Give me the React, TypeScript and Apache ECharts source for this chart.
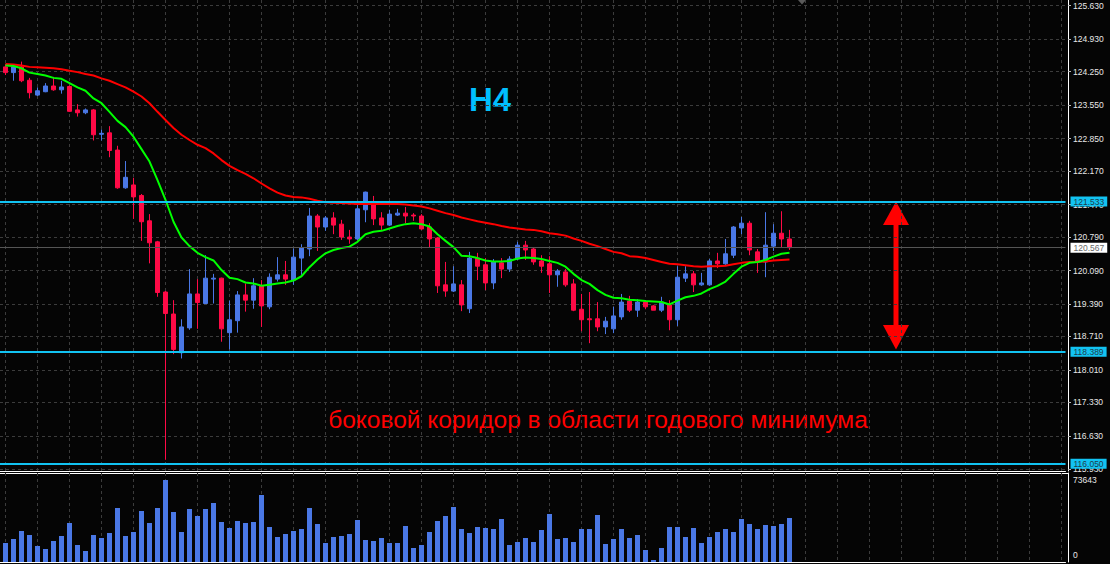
import React, { useEffect, useRef } from 'react';
import * as echarts from 'echarts';

// ---- axis tick labels (price pane) ----
const priceTicks = [125.63, 124.93, 124.25, 123.55, 122.85, 122.17, 121.47, 120.79, 120.09, 119.39, 118.71, 118.01, 117.33, 116.63, 115.93];

// ---- horizontal support / resistance levels ----
const levels = [121.533, 118.389, 116.05];

// ---- candles: [open, close, low, high] ----
const ohlc = [
  [124.35, 124.23, 124.18, 124.41],
  [124.23, 124.35, 124.06, 124.41],
  [124.35, 124.06, 124.03, 124.46],
  [124.07, 123.81, 123.69, 124.12],
  [123.76, 123.85, 123.74, 123.92],
  [123.83, 123.95, 123.82, 124.01],
  [123.95, 123.87, 123.85, 124.14],
  [123.87, 123.93, 123.79, 124.06],
  [123.94, 123.42, 123.41, 123.96],
  [123.45, 123.39, 123.31, 123.57],
  [123.39, 123.45, 123.36, 123.48],
  [123.45, 122.93, 122.81, 123.47],
  [122.94, 122.96, 122.81, 123.04],
  [122.97, 122.6, 122.46, 123.11],
  [122.61, 121.82, 121.8, 122.7],
  [121.82, 122.04, 121.8, 122.38],
  [121.88, 121.63, 121.17, 122.03],
  [121.66, 121.11, 120.71, 121.69],
  [121.13, 120.67, 120.24, 121.27],
  [120.69, 119.63, 119.54, 120.71],
  [119.64, 119.19, 116.13, 119.66],
  [119.18, 118.44, 118.34, 119.47],
  [118.37, 118.91, 118.25, 119.07],
  [118.89, 119.6, 118.85, 120.12],
  [119.6, 119.42, 118.87, 119.91],
  [119.4, 119.93, 119.39, 120.41],
  [119.91, 119.93, 119.4, 120.02],
  [119.93, 118.87, 118.6, 119.94],
  [118.79, 119.06, 118.44, 119.46],
  [119.04, 119.58, 118.79, 119.66],
  [119.58, 119.47, 119.23, 119.82],
  [119.47, 119.77, 119.29, 119.93],
  [119.77, 119.35, 118.91, 119.89],
  [119.33, 119.95, 119.28, 120.03],
  [119.91, 120.0, 119.86, 120.37],
  [120.0, 119.91, 119.79, 120.29],
  [119.89, 120.37, 119.79, 120.55],
  [120.35, 120.56, 120.0, 120.64],
  [120.54, 121.23, 120.39, 121.4],
  [121.23, 121.0, 120.5, 121.27],
  [121.0, 121.19, 120.92, 121.23],
  [121.19, 121.04, 120.85, 121.31],
  [121.06, 120.79, 120.73, 121.15],
  [120.79, 120.75, 120.65, 120.94],
  [120.75, 121.38, 120.73, 121.46],
  [121.36, 121.73, 121.1, 121.74],
  [121.52, 121.17, 121.04, 121.65],
  [121.19, 121.04, 120.94, 121.31],
  [121.04, 121.27, 121.02, 121.36],
  [121.25, 121.29, 121.23, 121.38],
  [121.29, 121.23, 121.08, 121.42],
  [121.25, 121.23, 121.13, 121.29],
  [121.23, 120.96, 120.94, 121.27],
  [121.0, 120.75, 120.58, 121.08],
  [120.77, 119.77, 119.62, 120.79],
  [119.79, 119.66, 119.54, 120.27],
  [119.66, 119.81, 119.64, 120.18],
  [119.79, 119.37, 119.24, 119.89],
  [119.29, 120.35, 119.2, 120.48],
  [120.35, 120.18, 119.89, 120.46],
  [120.21, 119.83, 119.68, 120.35],
  [119.83, 120.27, 119.7, 120.33],
  [120.25, 120.12, 119.93, 120.35],
  [120.12, 120.33, 120.06, 120.39],
  [120.33, 120.62, 120.31, 120.69],
  [120.62, 120.52, 120.31, 120.71],
  [120.54, 120.27, 120.21, 120.58],
  [120.29, 120.18, 120.04, 120.41],
  [120.23, 120.0, 119.62, 120.39],
  [120.0, 120.08, 119.75, 120.12],
  [120.06, 119.79, 119.75, 120.12],
  [119.81, 119.26, 119.24, 119.91],
  [119.28, 119.06, 118.82, 119.6],
  [119.08, 119.06, 118.57, 119.64],
  [119.08, 118.91, 118.82, 119.43],
  [118.91, 119.03, 118.76, 119.12],
  [118.87, 119.14, 118.78, 119.33],
  [119.12, 119.43, 119.06, 119.6],
  [119.45, 119.26, 119.22, 119.56],
  [119.26, 119.43, 119.12, 119.49],
  [119.43, 119.33, 119.28, 119.47],
  [119.35, 119.26, 119.26, 119.37],
  [119.26, 119.43, 119.22, 119.54],
  [119.37, 119.06, 118.84, 119.47],
  [119.06, 119.95, 118.93, 120.18],
  [119.93, 120.02, 119.85, 120.18],
  [120.02, 119.79, 119.64, 120.08],
  [119.79, 119.83, 119.77, 120.04],
  [119.79, 120.29, 119.77, 120.33],
  [120.29, 120.23, 120.14, 120.46],
  [120.23, 120.44, 120.21, 120.75],
  [120.41, 121.0, 120.35, 121.02],
  [120.98, 121.08, 120.85, 121.21],
  [121.08, 120.52, 120.41, 121.13],
  [120.48, 120.27, 120.04, 120.54],
  [120.27, 120.62, 119.95, 121.31],
  [120.6, 120.87, 120.5, 121.06],
  [120.87, 120.75, 120.58, 121.33],
  [120.75, 120.567, 120.52, 120.94],
];

// ---- fast moving average (green) ----
const maFast = [
  124.38, 124.37, 124.32, 124.23, 124.2, 124.17, 124.12, 124.1, 124.01, 123.92,
  123.85, 123.69, 123.59, 123.41, 123.22, 123.09, 122.89, 122.63, 122.37, 121.98,
  121.57, 121.11, 120.78, 120.6, 120.46, 120.37, 120.3, 120.1, 119.94, 119.91,
  119.84, 119.82, 119.77, 119.79, 119.82, 119.84, 119.88, 119.97, 120.16, 120.32,
  120.45, 120.52, 120.56, 120.59, 120.69, 120.85, 120.9, 120.92, 120.97, 121.02,
  121.06, 121.08, 121.06, 121.01, 120.85, 120.71, 120.58, 120.4, 120.39, 120.35,
  120.3, 120.28, 120.28, 120.29, 120.34, 120.36, 120.35, 120.33, 120.29, 120.25,
  120.17, 120.02, 119.89, 119.81, 119.68, 119.58, 119.52, 119.51, 119.48, 119.47,
  119.45, 119.44, 119.43, 119.38, 119.46, 119.53, 119.56, 119.61, 119.7, 119.77,
  119.86, 120.02, 120.17, 120.25, 120.27, 120.31, 120.38, 120.44, 120.46,
];

// ---- slow moving average (red) ----
const maSlow = [
  124.41, 124.4, 124.38, 124.35, 124.34, 124.33, 124.32, 124.3, 124.27, 124.24,
  124.2, 124.17, 124.11, 124.06, 123.99, 123.92, 123.83, 123.73, 123.59, 123.41,
  123.24, 123.07, 122.93, 122.82, 122.72, 122.65, 122.54, 122.4, 122.28, 122.19,
  122.11, 122.02, 121.91, 121.81, 121.72, 121.66, 121.63, 121.62, 121.59, 121.55,
  121.52, 121.51, 121.5, 121.49, 121.48, 121.48, 121.48, 121.48, 121.48, 121.48,
  121.47, 121.45, 121.43, 121.39, 121.34, 121.29, 121.25, 121.2, 121.16, 121.12,
  121.09, 121.06, 121.02, 120.99, 120.97, 120.95, 120.94, 120.91, 120.87, 120.85,
  120.82, 120.76, 120.71, 120.65, 120.6, 120.54, 120.48, 120.45, 120.39, 120.38,
  120.35, 120.31, 120.27, 120.23, 120.22, 120.2, 120.18, 120.17, 120.18, 120.18,
  120.19, 120.22, 120.25, 120.27, 120.27, 120.28, 120.3, 120.31, 120.32,
];

// ---- tick volumes ----
const volumes = [
  17060, 20650, 27840, 24250, 14370, 11680, 18860, 23350, 35020, 15270,
  9880, 24250, 21550, 26040, 48490, 23350, 26940, 45800, 35020, 48490,
  73643, 44900, 26940, 47590, 41310, 47590, 52980, 35920, 30530, 36820,
  35020, 35920, 60170, 31430, 22450, 25140, 27840, 29630, 48490, 34120,
  17060, 22450, 23350, 25140, 37720, 19760, 18860, 21550, 17060, 17060,
  32330, 12570, 15270, 26940, 36820, 41310, 49390, 29630, 26040, 31430,
  30530, 29630, 38610, 15270, 17960, 21550, 17960, 28740, 43100, 20650,
  21550, 17960, 29630, 29630, 42210, 16160, 20650, 29630, 21550, 24250,
  10780, 1800, 12570, 31430, 31430, 22450, 30530, 17060, 22450, 26940,
  29630, 26940, 38610, 34120, 29630, 33220, 32330, 34120, 39510,
];

const titleText = 'H4';
const noteText = 'боковой коридор в области годового минимума';

const BULL = '#4a78e6';
const BEAR = '#ff0a46';
const CYAN = '#12c3f2';
const GRIDC = '#3c3c3c';
const FONT = "'Liberation Sans', Arial, sans-serif";

export default function App() {
  const ref = useRef<HTMLDivElement>(null);

  useEffect(() => {
    document.body.style.margin = '0';
    const chart = echarts.init(ref.current as HTMLDivElement, null, { renderer: 'svg' });
    const lastClose = ohlc[ohlc.length - 1][1];
    const volMax = Math.max(...volumes);
    const gridX: number[] = [];
    for (let k = 0; k <= 132; k += 4) gridX.push(k);

    const xCommon = {
      type: 'value',
      min: -0.6875,
      max: 132.5,
      axisLine: { show: true, onZero: false, lineStyle: { color: '#ffffff', width: 1 } },
      axisTick: { show: false, customValues: gridX },
      axisLabel: { show: false },
      splitLine: { show: true, lineStyle: { color: GRIDC, type: [3, 3], width: 1 } },
    };

    const tagLabel = (v: number, bg: string, fg: string) => ({
      show: true,
      position: 'end',
      distance: 5,
      formatter: () => v.toFixed(3),
      backgroundColor: bg,
      color: fg,
      fontSize: 8.5,
      fontFamily: FONT,
      padding: [1, 3, 0, 3],
    });

    const option: any = {
      animation: false,
      backgroundColor: '#050505',
      grid: [
        { left: 0, right: 44.5, top: 0, height: 471 },
        { left: 0, right: 44.5, top: 473, height: 89 },
      ],
      xAxis: [
        { ...xCommon, gridIndex: 0 },
        { ...xCommon, gridIndex: 1 },
      ],
      yAxis: [
        {
          type: 'value',
          gridIndex: 0,
          position: 'right',
          offset: 2.5,
          min: 115.896,
          max: 125.749,
          axisLine: { show: true, onZero: false, lineStyle: { color: '#ffffff', width: 1 } },
          axisTick: { show: true, length: 3, customValues: priceTicks, lineStyle: { color: '#bbbbbb' } },
          axisLabel: {
            customValues: priceTicks,
            formatter: (v: number) => v.toFixed(3),
            color: '#e8e8e8',
            fontSize: 8.5,
            fontFamily: FONT,
            margin: 5,
          },
          splitLine: { show: true, lineStyle: { color: GRIDC, type: [3, 3], width: 1 } },
        },
        {
          type: 'value',
          gridIndex: 1,
          position: 'right',
          offset: 2.5,
          min: 0,
          max: Math.round((volMax * 89) / 82),
          axisLine: { show: true, onZero: false, lineStyle: { color: '#ffffff', width: 1 } },
          axisTick: { show: false, customValues: [0, volMax] },
          axisLabel: {
            customValues: [0, volMax],
            formatter: (v: number) => (v === 0 ? '{z|0}' : '{m|' + v + '}'),
            color: '#e8e8e8',
            fontSize: 8.5,
            fontFamily: FONT,
            margin: 5,
            rich: {
              z: { fontSize: 8.5, fontFamily: FONT, color: '#e8e8e8', padding: [0, 0, 14, 0] },
              m: { fontSize: 8.5, fontFamily: FONT, color: '#e8e8e8' },
            },
          },
          splitLine: { show: false },
        },
      ],
      series: [
        {
          type: 'candlestick',
          xAxisIndex: 0,
          yAxisIndex: 0,
          barWidth: 4,
          z: 3,
          data: ohlc.map((d, i) => [i, d[0], d[1], d[2], d[3]]),
          itemStyle: {
            color: BULL,
            color0: BEAR,
            borderColor: BULL,
            borderColor0: BEAR,
            borderWidth: 1,
          },
          markLine: {
            silent: true,
            symbol: ['none', 'none'],
            animation: false,
            precision: 3,
            data: [
              {
                yAxis: lastClose,
                lineStyle: { color: '#555555', width: 1, type: 'solid' },
                label: tagLabel(lastClose, '#ffffff', '#6a6a6a'),
              },
              ...levels.map((v) => ({
                yAxis: v,
                lineStyle: { color: CYAN, width: 2, type: 'solid' },
                label: tagLabel(v, CYAN, '#1e3c4a'),
              })),
            ],
          },
        },
        {
          type: 'line',
          xAxisIndex: 0,
          yAxisIndex: 0,
          z: 4,
          showSymbol: false,
          symbol: 'none',
          data: maSlow.map((v, i) => [i, v]),
          lineStyle: { color: '#ff0000', width: 2 },
        },
        {
          type: 'line',
          xAxisIndex: 0,
          yAxisIndex: 0,
          z: 4,
          showSymbol: false,
          symbol: 'none',
          data: maFast.map((v, i) => [i, v]),
          lineStyle: { color: '#00ff00', width: 2 },
        },
        {
          type: 'bar',
          xAxisIndex: 1,
          yAxisIndex: 1,
          barWidth: 5,
          data: volumes.map((v, i) => [i, v]),
          itemStyle: { color: BULL },
        },
      ],
      graphic: [
        {
          type: 'line',
          silent: true,
          shape: { x1: 0, y1: 473.5, x2: 1068, y2: 473.5 },
          style: { stroke: '#ffffff', lineWidth: 1 },
        },
        {
          type: 'polygon',
          silent: true,
          shape: { points: [[798, 0], [806, 0], [802, 4.5]] },
          style: { fill: '#5a5a5a' },
        },
        {
          type: 'text',
          silent: true,
          x: 490,
          y: 99,
          style: {
            text: titleText,
            fill: '#00bfff',
            font: "bold 33px 'Liberation Sans', Arial, sans-serif",
            align: 'center',
            verticalAlign: 'middle',
          },
        },
        {
          type: 'text',
          silent: true,
          x: 598,
          y: 419,
          style: {
            text: noteText,
            fill: '#ff0000',
            font: "24.5px 'Liberation Sans', Arial, sans-serif",
            align: 'center',
            verticalAlign: 'middle',
          },
        },
        {
          type: 'rect',
          silent: true,
          shape: { x: 893.5, y: 222, width: 5, height: 106 },
          style: { fill: '#ff0000' },
        },
        {
          type: 'polygon',
          silent: true,
          shape: { points: [[896, 201.5], [883, 225], [909, 225]] },
          style: { fill: '#ff0000' },
        },
        {
          type: 'polygon',
          silent: true,
          shape: { points: [[896, 349.5], [883, 325], [909, 325]] },
          style: { fill: '#ff0000' },
        },
      ],
    };

    chart.setOption(option);
    return () => chart.dispose();
  }, []);

  return <div ref={ref} style={{ width: 1110, height: 564, background: '#050505' }} />;
}
